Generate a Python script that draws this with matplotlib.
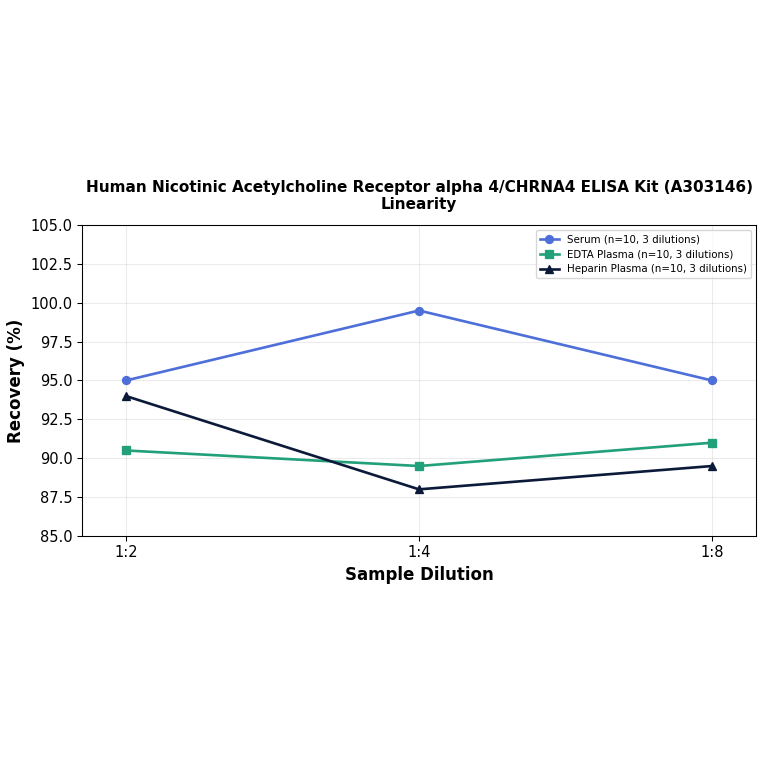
import matplotlib
matplotlib.use("Agg")
import matplotlib.pyplot as plt

dilutions = ["1:2", "1:4", "1:8"]
serum = [95.0, 99.5, 95.0]
edta = [90.5, 89.5, 91.0]
heparin = [94.0, 88.0, 89.5]

DPI = 95.5
fig = plt.figure(figsize=(764 / DPI, 764 / DPI), dpi=DPI)
ax = fig.add_axes([82 / 764, 1 - 536 / 764, 674 / 764, 311 / 764])

x = range(len(dilutions))
ax.plot(x, serum, color="#4e6fd9", marker="o", lw=2, ms=6,
        label="Serum (n=10, 3 dilutions)")
ax.plot(x, edta, color="#22a07a", marker="s", lw=2, ms=6,
        label="EDTA Plasma (n=10, 3 dilutions)")
ax.plot(x, heparin, color="#0c1a3a", marker="^", lw=2, ms=6,
        label="Heparin Plasma (n=10, 3 dilutions)")

ax.set_xticks(list(x))
ax.set_xticklabels(dilutions)
ax.set_xlim(-0.15, 2.15)
ax.set_ylim(85, 105)
ax.set_yticks([85.0, 87.5, 90.0, 92.5, 95.0, 97.5, 100.0, 102.5, 105.0])
ax.tick_params(labelsize=11)
ax.grid(True, alpha=0.25)
ax.set_xlabel("Sample Dilution", fontsize=12.5, fontweight="bold")
ax.set_ylabel("Recovery (%)", fontsize=12.5, fontweight="bold")
ax.set_title("Human Nicotinic Acetylcholine Receptor alpha 4/CHRNA4 ELISA Kit (A303146)\nLinearity",
             fontsize=11.5, fontweight="bold", pad=12)
ax.legend(loc="upper right", fontsize=7.7, handlelength=1.8)

fig.savefig("out.png", dpi=DPI)
